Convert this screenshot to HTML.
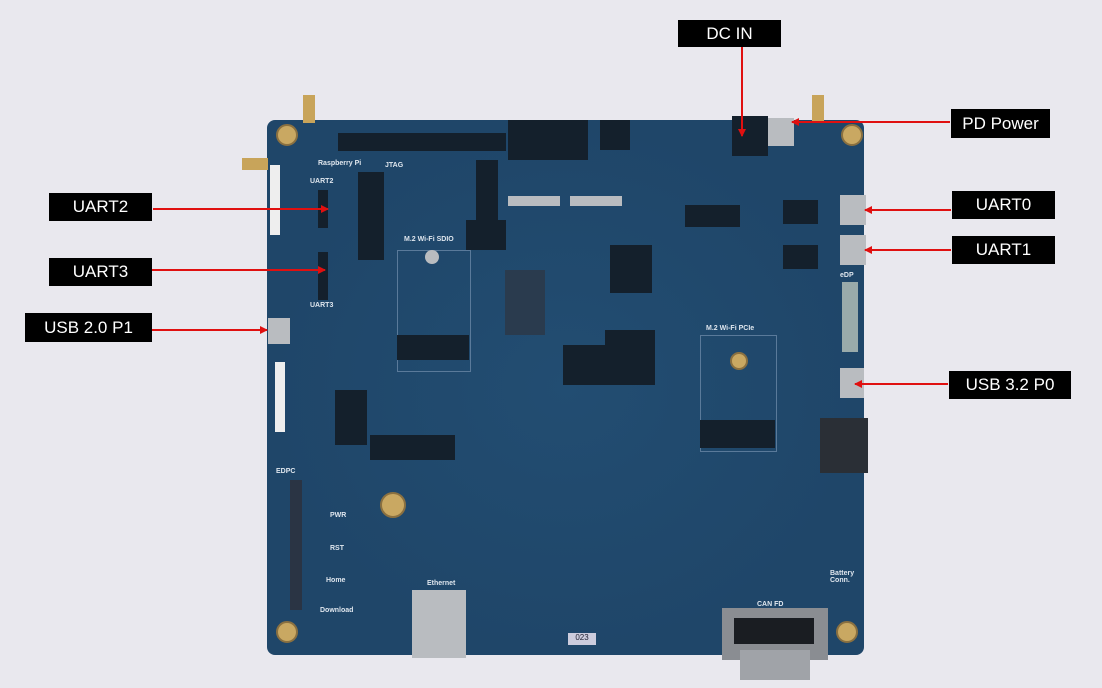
<!DOCTYPE html>
<html><head><meta charset="utf-8"><style>
html,body{margin:0;padding:0}
body{width:1102px;height:688px;background:#e9e8ee;position:relative;overflow:hidden;font-family:"Liberation Sans",sans-serif}
.a{position:absolute}
.lbl{position:absolute;background:#000;color:#fff;font-size:17px;display:flex;align-items:center;justify-content:center}
.blk{position:absolute;background:#14202c}
.gold{position:absolute;border-radius:50%;background:#c9a862;border:2px solid #8a7040}
.slv{position:absolute;background:#b9bcc0}
.t{position:absolute;color:#dfe6ee;font-size:7px;font-weight:bold}
</style></head><body>
<!-- board -->
<div class="a" style="left:267px;top:120px;width:597px;height:535px;background:#1f4669;border-radius:8px"></div>
<div class="a" style="left:267px;top:120px;width:597px;height:535px;background:radial-gradient(ellipse at 50% 50%,rgba(40,90,130,.35),rgba(0,0,0,0) 70%);border-radius:8px"></div>
<!-- antennas -->
<div class="a" style="left:303px;top:95px;width:12px;height:28px;background:#c8a45a"></div>
<div class="a" style="left:812px;top:95px;width:12px;height:28px;background:#c8a45a"></div>
<div class="a" style="left:242px;top:158px;width:26px;height:12px;background:#c8a45a"></div>
<!-- mounting holes -->
<div class="gold" style="left:276px;top:124px;width:18px;height:18px"></div>
<div class="gold" style="left:841px;top:124px;width:18px;height:18px"></div>
<div class="gold" style="left:276px;top:621px;width:18px;height:18px"></div>
<div class="gold" style="left:836px;top:621px;width:18px;height:18px"></div>
<div class="gold" style="left:380px;top:492px;width:22px;height:22px"></div>
<!-- headers -->
<div class="blk" style="left:338px;top:133px;width:168px;height:18px"></div>
<div class="blk" style="left:358px;top:172px;width:26px;height:88px"></div>
<div class="blk" style="left:318px;top:190px;width:10px;height:38px"></div>
<div class="blk" style="left:318px;top:252px;width:10px;height:48px"></div>
<div class="blk" style="left:476px;top:160px;width:22px;height:60px"></div>
<div class="blk" style="left:466px;top:220px;width:40px;height:30px"></div>
<div class="blk" style="left:335px;top:390px;width:32px;height:55px"></div>
<div class="blk" style="left:370px;top:435px;width:85px;height:25px"></div>
<div class="blk" style="left:508px;top:120px;width:80px;height:40px"></div>
<div class="slv" style="left:508px;top:196px;width:52px;height:10px"></div>
<div class="slv" style="left:570px;top:196px;width:52px;height:10px"></div>
<div class="blk" style="left:600px;top:120px;width:30px;height:30px"></div>
<div class="blk" style="left:732px;top:116px;width:36px;height:40px"></div>
<div class="slv" style="left:768px;top:118px;width:26px;height:28px"></div>
<div class="blk" style="left:685px;top:205px;width:55px;height:22px"></div>
<div class="blk" style="left:783px;top:200px;width:35px;height:24px"></div>
<div class="blk" style="left:783px;top:245px;width:35px;height:24px"></div>
<div class="slv" style="left:840px;top:195px;width:26px;height:30px"></div>
<div class="slv" style="left:840px;top:235px;width:26px;height:30px"></div>
<div class="slv" style="left:840px;top:368px;width:24px;height:30px"></div>
<div class="slv" style="left:842px;top:282px;width:16px;height:70px;background:#9aa"></div>
<div class="slv" style="left:268px;top:318px;width:22px;height:26px"></div>
<!-- chips -->
<div class="blk" style="left:610px;top:245px;width:42px;height:48px"></div>
<div class="blk" style="left:605px;top:330px;width:50px;height:55px"></div>
<div class="blk" style="left:563px;top:345px;width:42px;height:40px"></div>
<div class="blk" style="left:505px;top:270px;width:40px;height:65px;background:#2a3b4e"></div>
<!-- M.2 slots -->
<div class="a" style="left:397px;top:250px;width:72px;height:120px;border:1px solid #5a7a9a"></div>
<div class="blk" style="left:397px;top:335px;width:72px;height:25px"></div>
<div class="a" style="left:700px;top:335px;width:75px;height:115px;border:1px solid #5a7a9a"></div>
<div class="blk" style="left:700px;top:420px;width:75px;height:28px"></div>
<div class="blk" style="left:820px;top:418px;width:48px;height:55px;background:#2a2f36"></div>
<div class="slv" style="left:425px;top:250px;width:14px;height:14px;border-radius:50%"></div>
<div class="gold" style="left:730px;top:352px;width:14px;height:14px"></div>
<!-- bottom -->
<div class="slv" style="left:412px;top:590px;width:54px;height:68px"></div>
<div class="slv" style="left:722px;top:608px;width:106px;height:52px;background:#8a8d92"></div>
<div class="blk" style="left:734px;top:618px;width:80px;height:26px;background:#1a1d22"></div>
<div class="slv" style="left:740px;top:650px;width:70px;height:30px;background:#a0a3a8"></div>
<div class="slv" style="left:290px;top:480px;width:12px;height:130px;background:#2a3444"></div>
<div class="slv" style="left:275px;top:362px;width:10px;height:70px;background:#eee"></div>
<div class="slv" style="left:270px;top:165px;width:10px;height:70px;background:#eee"></div>
<div class="t" style="left:310px;top:178px">UART2</div>
<div class="t" style="left:310px;top:302px">UART3</div>
<div class="t" style="left:385px;top:162px">JTAG</div>
<div class="t" style="left:318px;top:160px">Raspberry Pi</div>
<div class="t" style="left:404px;top:236px">M.2 Wi-Fi SDIO</div>
<div class="t" style="left:706px;top:325px">M.2 Wi-Fi PCIe</div>
<div class="t" style="left:427px;top:580px">Ethernet</div>
<div class="t" style="left:757px;top:601px">CAN FD</div>
<div class="t" style="left:330px;top:512px">PWR</div>
<div class="t" style="left:330px;top:545px">RST</div>
<div class="t" style="left:326px;top:577px">Home</div>
<div class="t" style="left:320px;top:607px">Download</div>
<div class="t" style="left:276px;top:468px">EDPC</div>
<div class="t" style="left:830px;top:570px">Battery<br>Conn.</div>
<div class="t" style="left:840px;top:272px">eDP</div>
<div class="a" style="left:568px;top:633px;width:28px;height:12px;background:#ccd;color:#223;font-size:8px;text-align:center">023</div>
<!-- labels -->
<div class="lbl" style="left:49px;top:193px;width:103px;height:28px">UART2</div>
<div class="lbl" style="left:49px;top:258px;width:103px;height:28px">UART3</div>
<div class="lbl" style="left:25px;top:313px;width:127px;height:29px">USB 2.0 P1</div>
<div class="lbl" style="left:678px;top:20px;width:103px;height:27px">DC IN</div>
<div class="lbl" style="left:951px;top:109px;width:99px;height:29px">PD Power</div>
<div class="lbl" style="left:952px;top:191px;width:103px;height:28px">UART0</div>
<div class="lbl" style="left:952px;top:236px;width:103px;height:28px">UART1</div>
<div class="lbl" style="left:949px;top:371px;width:122px;height:28px">USB 3.2 P0</div>
<svg class="a" style="left:0;top:0" width="1102" height="688">
<defs><marker id="m" markerWidth="8" markerHeight="8" refX="7" refY="4" orient="auto" markerUnits="userSpaceOnUse"><path d="M0,0L8,4L0,8z" fill="#e01010"/></marker></defs>
<g stroke="#e01010" stroke-width="2" marker-end="url(#m)">
<line x1="153" y1="209" x2="328" y2="209"/>
<line x1="152" y1="270" x2="325" y2="270"/>
<line x1="152" y1="330" x2="267" y2="330"/>
<line x1="742" y1="47" x2="742" y2="136"/>
<line x1="950" y1="122" x2="792" y2="122"/>
<line x1="951" y1="210" x2="865" y2="210"/>
<line x1="951" y1="250" x2="865" y2="250"/>
<line x1="948" y1="384" x2="855" y2="384"/>
</g></svg>
</body></html>
